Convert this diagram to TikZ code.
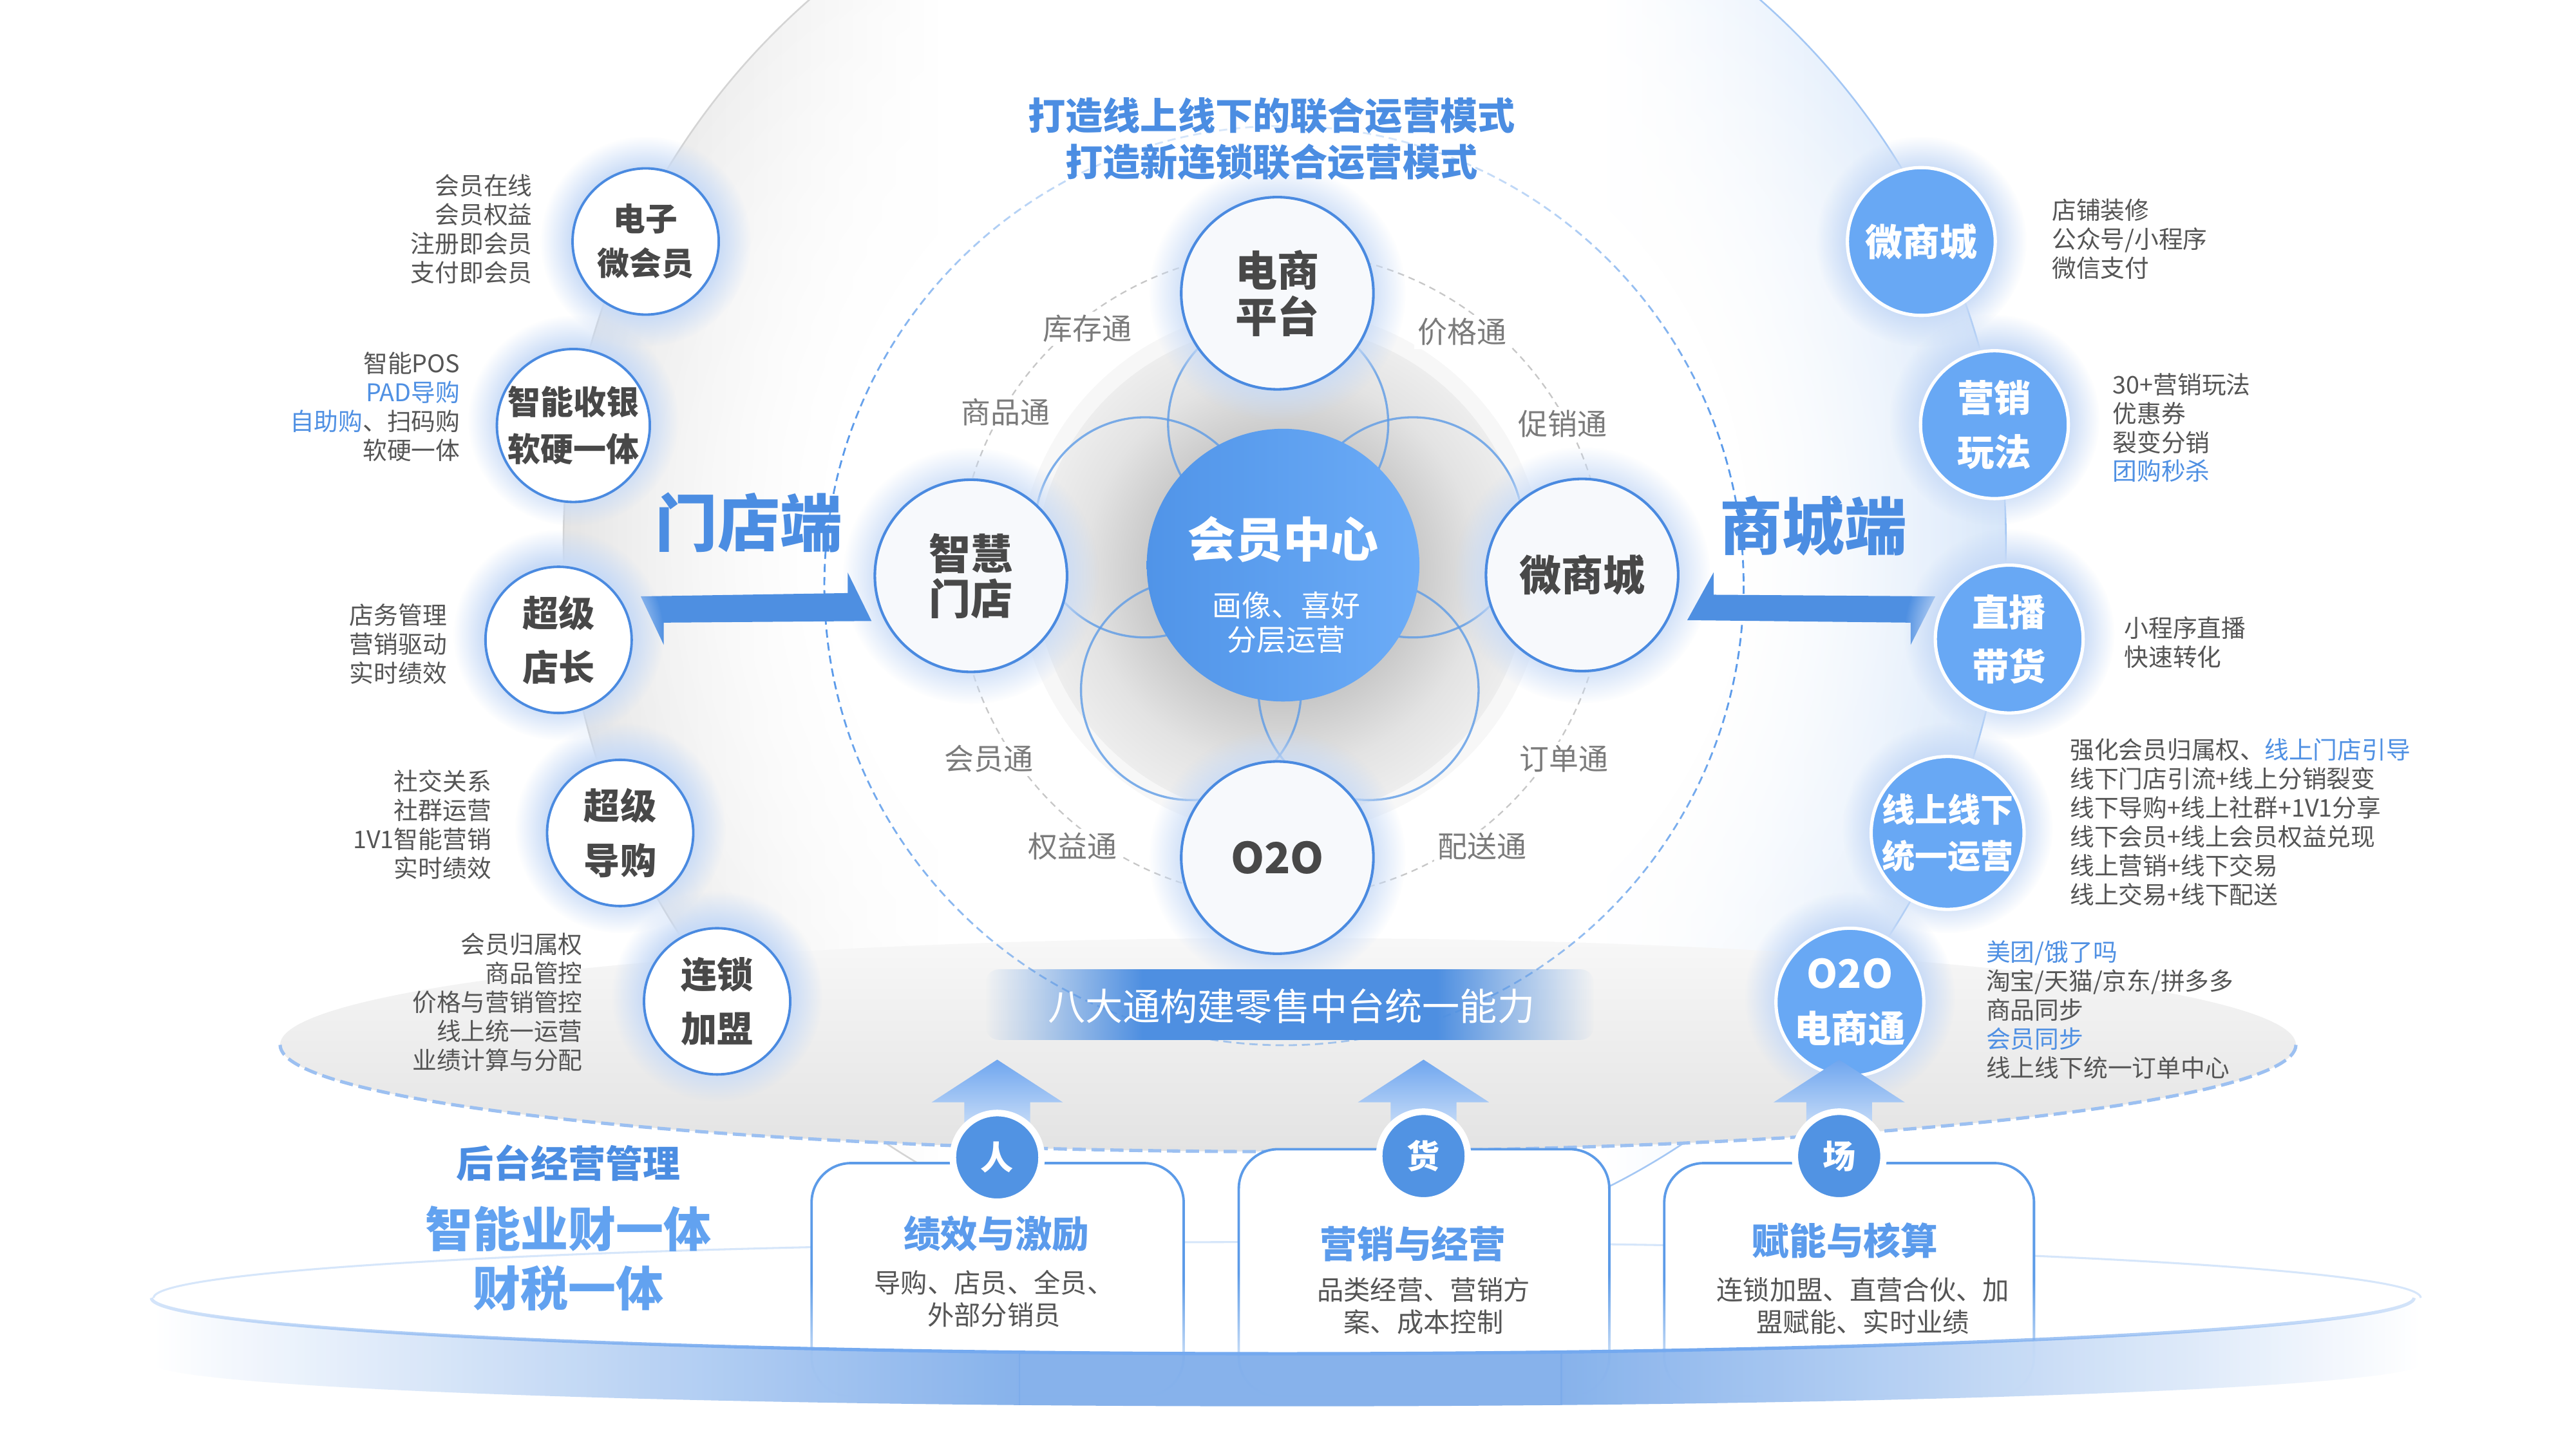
\documentclass[tikz,border=0pt]{standalone}
\usepackage{fontspec}
\setmainfont{Noto Sans CJK SC}
\usetikzlibrary{fadings}

\definecolor{tblue}{HTML}{4B8DE2}
\definecolor{abblue}{HTML}{4E8FE1}
\definecolor{sfill}{HTML}{68A8F4}
\definecolor{sline}{HTML}{4A8AE0}
\definecolor{dtext}{HTML}{484848}
\definecolor{gtext}{HTML}{555555}
\definecolor{ltext}{HTML}{7B7B7B}
\definecolor{hblue}{HTML}{4F90E3}
\definecolor{bandblue}{HTML}{7DACEA}
\definecolor{cblueA}{HTML}{5094E8}
\definecolor{cblueB}{HTML}{6CACF7}
\definecolor{subblue}{HTML}{5B9BEC}
\definecolor{ltblue}{HTML}{62A2F0}
\definecolor{glowL}{HTML}{C8DBF7}
\definecolor{ringblue}{HTML}{D6E6FA}
\definecolor{ringgray}{HTML}{E4E4E4}
\definecolor{dashblue}{HTML}{5A9AEA}
\definecolor{platdash}{HTML}{9CC0F1}
\definecolor{arrowtop}{HTML}{6FA6EF}
\definecolor{arrowbot}{HTML}{D4E4F9}
\definecolor{smallc}{HTML}{5193E3}
\definecolor{boxline}{HTML}{5C9BE8}
\definecolor{petal}{HTML}{5D9BE6}
\definecolor{satfill}{HTML}{F7F9FC}
\definecolor{rimblue}{HTML}{74A9EF}

\pgfdeclareradialshading{innermask}{\pgfpoint{0bp}{0bp}}{color(0bp)=(white); color(16bp)=(white); color(25bp)=(black); color(50bp)=(black)}
\pgfdeclarefading{innerfade}{\pgfuseshading{innermask}}
\pgfdeclareradialshading{glowmask}{\pgfpoint{0bp}{0bp}}{color(0bp)=(white); color(17bp)=(white); color(25bp)=(black); color(50bp)=(black)}
\pgfdeclarefading{glowfade}{\pgfuseshading{glowmask}}
\pgfdeclarehorizontalshading{bannermask}{100bp}{color(0bp)=(black); color(25bp)=(black); color(38bp)=(white); color(62bp)=(white); color(75bp)=(black); color(100bp)=(black)}
\pgfdeclarefading{bannerfade}{\pgfuseshading{bannermask}}
\pgfdeclareverticalshading{boxmask}{100bp}{color(0bp)=(black); color(25bp)=(black); color(50bp)=(white); color(100bp)=(white)}
\pgfdeclarefading{boxfade}{\pgfuseshading{boxmask}}
\pgfdeclareverticalshading{dashmask}{100bp}{color(0bp)=(black!50); color(25bp)=(black!50); color(45bp)=(white); color(58bp)=(white); color(75bp)=(black!78); color(100bp)=(black!78)}
\pgfdeclarefading{dashfade}{\pgfuseshading{dashmask}}
\pgfdeclarehorizontalshading{rimmask}{100bp}{color(0bp)=(black!70); color(25bp)=(black!70); color(40bp)=(white); color(60bp)=(white); color(75bp)=(black!70); color(100bp)=(black!70)}
\pgfdeclarefading{rimfade}{\pgfuseshading{rimmask}}
\pgfdeclareradialshading{discshade}{\pgfpoint{0bp}{0bp}}{color(0bp)=(black!26); color(13bp)=(black!22); color(20bp)=(black!11); color(25bp)=(black!7); color(50bp)=(black!7)}

\newcommand{\fsz}[2]{\fontsize{#1}{#2}\selectfont}
\newcommand{\glowat}[3]{\fill[#3, path fading=glowfade] (#1) circle [radius=#2];}

\begin{document}
\begin{tikzpicture}[x=1pt,y=-1pt,
  every node/.style={inner sep=0pt, outer sep=0pt},
  desc/.style={font=\fsz{14.8}{17.6}, text=gtext},
  tong/.style={font=\fsz{18}{20}, text=ltext, fill=white, inner sep=2pt},
  wsat/.style={circle, minimum size=117, fill=satfill, draw=sline, line width=1.6, text=dtext, align=center},
  lsat/.style={circle, minimum size=89, fill=white, draw=sline, line width=1.5, text=dtext, align=center},
  rsat/.style={circle, minimum size=90, fill=sfill, draw=white, line width=2, text=white, align=center},
  petalc/.style={draw=petal, draw opacity=0.8, line width=1.3},
  smallcirc/.style={circle, minimum size=54, fill=smallc, draw=white, line width=4, text=white, font=\bfseries\fsz{20}{22}},
  boxtitle/.style={font=\bfseries\fsz{22.6}{24}, text=subblue},
  boxsub/.style={font=\fsz{16.2}{19.5}, text=gtext, align=center},
  upar/.style={top color=arrowtop, bottom color=arrowbot},
  twol/.style={yshift=-3pt}
]
\useasboundingbox (0,0) rectangle (1568,882);
\fill[white] (0,0) rectangle (1568,882);

% big background circle: grey on the left, blue on the right, white inside
\begin{scope}
  \clip (782,330) circle [radius=439];
  \shade[left color=ringgray, right color=white] (343,-109) rectangle (575,769);
  \shade[left color=white, right color=ringblue] (975,-109) rectangle (1221,769);
\end{scope}
\fill[white, path fading=innerfade] (782,330) circle [radius=439];
\draw[black!17, line width=1] (782,769) arc[start angle=90, end angle=270, radius=439];
\draw[dashblue!55, line width=1] (782,-109) arc[start angle=270, end angle=450, radius=439];

% platform
\shade[top color=black!3, middle color=black!5, bottom color=black!11] (784,636) ellipse [x radius=613.5, y radius=65];
\draw[platdash, line width=2, dash pattern=on 8 off 3.5] (1397.5,636) arc[start angle=0, end angle=180, x radius=613.5, y radius=65];

% dashed circles
\draw[dashblue, line width=1.1, dash pattern=on 5 off 3, path fading=dashfade] (782,356) circle [radius=280];
\draw[black!22, line width=0.9, dash pattern=on 4 off 3] (780,350) circle [radius=197];

% grey disc
\fill[black!3] (780,348) circle [radius=160];
\shade[shading=discshade] (780,348) circle [radius=150];

% petals
\draw[petalc] (778,258) circle [radius=67];
\draw[petalc] (697,321) circle [radius=67];
\draw[petalc] (860,321) circle [radius=67];
\draw[petalc] (725,420) circle [radius=67];
\draw[petalc] (833,420) circle [radius=67];

% centre
\node[circle, minimum size=166, left color=cblueA, right color=cblueB] (hyzx) at (781,344) {};
\node[font=\bfseries\fsz{29}{30}, text=white] (hyzxt) at (781,328.5) {会员中心};
\node[font=\fsz{18}{21}, text=white, align=center] (hyzxs) at (783,379) {画像、喜好\\分层运营};

% central satellites
\glowat{777.5,178.5}{78}{glowL}
\glowat{591,350.5}{78}{glowL}
\glowat{963,350}{78}{glowL}
\glowat{777.5,522}{78}{glowL}
\node[wsat, font=\bfseries\fsz{25.5}{28}] (ec) at (777.5,178.5) {电商\\平台};
\node[wsat, font=\bfseries\fsz{25.5}{27.5}] (zh) at (591,350.5) {智慧\\门店};
\node[wsat, font=\bfseries\fsz{25.5}{28}] (wsc) at (963,350) {微商城};
\node[wsat, font=\bfseries\fsz{26}{28}] (o2o) at (777.5,522) {O2O};

% tong labels
\node[tong] (kc) at (662,200) {库存通};
\node[tong] (jg) at (890,202) {价格通};
\node[tong] (sp) at (612,251) {商品通};
\node[tong] (cx) at (951,258) {促销通};
\node[tong] (hy) at (602,462) {会员通};
\node[tong] (dd) at (952,462) {订单通};
\node[tong] (qy) at (653,515) {权益通};
\node[tong] (ps) at (902,515) {配送通};

% title
\node[font=\bfseries\fsz{22.8}{28}, text=tblue, align=center] (title) at (774,84.5) {打造线上线下的联合运营模式\\打造新连锁联合运营模式};

% side titles and arrows
\node[font=\bfseries\fsz{38}{40}, text=tblue] (mdd) at (456,318) {门店端};
\node[font=\bfseries\fsz{38}{40}, text=tblue] (scd) at (1104,320) {商城端};
\fill[abblue] (390,363) -- (516,361) -- (516,348.5) -- (530.5,378) -- (404,379) -- (404,392.5) -- cycle;
\fill[abblue] (1178,363) -- (1043,362) -- (1043,348.5) -- (1027,377.5) -- (1163,379) -- (1163,392.5) -- cycle;

% left satellites
\glowat{393,147}{64}{glowL}
\glowat{349,256}{64}{glowL}
\glowat{340,386.5}{64}{glowL}
\glowat{377.5,504}{64}{glowL}
\glowat{436.5,606.5}{64}{glowL}
\node[lsat, font=\bfseries\fsz{19.5}{27}] (ls1) at (393,147) {电子\\微会员};
\node[lsat, font=\bfseries\fsz{20}{28.5}, twol] (ls2) at (349,256) {智能收银\\软硬一体};
\node[lsat, font=\bfseries\fsz{22}{33}, twol] (ls3) at (340,386.5) {超级\\店长};
\node[lsat, font=\bfseries\fsz{22}{33}, twol] (ls4) at (377.5,504) {超级\\导购};
\node[lsat, font=\bfseries\fsz{22}{33}, twol] (ls5) at (436.5,606.5) {连锁\\加盟};

\node[desc, anchor=east, align=right] (d1) at (324,139.5) {会员在线\\会员权益\\注册即会员\\支付即会员};
\node[desc, anchor=east, align=right] (d2) at (280,247.5) {智能POS\\\textcolor{hblue}{PAD导购}\\\textcolor{hblue}{自助购}、扫码购\\软硬一体};
\node[desc, anchor=east, align=right] (d3) at (272,392.2) {店务管理\\营销驱动\\实时绩效};
\node[desc, anchor=east, align=right] (d4) at (299,502) {社交关系\\社群运营\\1V1智能营销\\实时绩效};
\node[desc, anchor=east, align=right] (d5) at (354.6,610) {会员归属权\\商品管控\\价格与营销管控\\线上统一运营\\业绩计算与分配};

% right satellites
\glowat{1169.5,147}{64}{glowL}
\glowat{1214,255.5}{64}{glowL}
\glowat{1223,386}{64}{glowL}
\glowat{1185.5,504}{64}{glowL}
\glowat{1126,607}{64}{glowL}
\node[rsat, font=\bfseries\fsz{22.7}{26}] (rs1) at (1169.5,147) {微商城};
\node[rsat, font=\bfseries\fsz{22.5}{33}, twol] (rs2) at (1214,255.5) {营销\\玩法};
\node[rsat, font=\bfseries\fsz{22.5}{33}, twol] (rs3) at (1223,386) {直播\\带货};
\node[rsat, font=\bfseries\fsz{20}{28.5}, twol] (rs4) at (1185.5,504) {线上线下\\统一运营};
\node[rsat, font=\bfseries\fsz{22.5}{33}, twol] (rs5) at (1126,607) {{\fsz{24}{33}O2O}\\电商通};

\node[desc, anchor=west, align=left] (e1) at (1249,145.6) {店铺装修\\公众号/小程序\\微信支付};
\node[desc, anchor=west, align=left] (e2) at (1286,260.4) {30+营销玩法\\优惠券\\裂变分销\\\textcolor{hblue}{团购秒杀}};
\node[desc, anchor=west, align=left] (e3) at (1293,391) {小程序直播\\快速转化};
\node[desc, anchor=west, align=left] (e4) at (1260,500.5) {强化会员归属权、\textcolor{hblue}{线上门店引导}\\线下门店引流+线上分销裂变\\线下导购+线上社群+1V1分享\\线下会员+线上会员权益兑现\\线上营销+线下交易\\线上交易+线下配送};
\node[desc, anchor=west, align=left] (e5) at (1209,614.6) {\textcolor{hblue}{美团/饿了吗}\\淘宝/天猫/京东/拼多多\\商品同步\\\textcolor{hblue}{会员同步}\\线上线下统一订单中心};

% banner
\fill[abblue, path fading=bannerfade, rounded corners=8] (600,590) rectangle (970,633);
\node[font=\fsz{22.8}{24}, text=white] (banner) at (786,612.5) {八大通构建零售中台统一能力};

% disc top surface
\fill[white] (783.5,790) ellipse [x radius=690, y radius=34];
\draw[ringblue, line width=1.2] (93.5,790) arc[start angle=180, end angle=360, x radius=690, y radius=34];

% boxes
\fill[white, path fading=boxfade, rounded corners=24] (494,708) rectangle (720.5,850);
\draw[boxline, line width=1.5, rounded corners=24, path fading=boxfade] (494,708) rectangle (720.5,850);
\fill[white, path fading=boxfade, rounded corners=24] (754,699.5) rectangle (979.5,850);
\draw[boxline, line width=1.5, rounded corners=24, path fading=boxfade] (754,699.5) rectangle (979.5,850);
\fill[white, path fading=boxfade, rounded corners=24] (1013,708) rectangle (1238,850);
\draw[boxline, line width=1.5, rounded corners=24, path fading=boxfade] (1013,708) rectangle (1238,850);

% up arrows
\shade[upar] (607,645) -- (647,671) -- (627,671) -- (627,692) -- (587,692) -- (587,671) -- (567,671) -- cycle;
\shade[upar] (866.5,645) -- (906.5,671) -- (886.5,671) -- (886.5,692) -- (846.5,692) -- (846.5,671) -- (826.5,671) -- cycle;
\shade[upar] (1119.5,645) -- (1159.5,671) -- (1139.5,671) -- (1139.5,692) -- (1099.5,692) -- (1099.5,671) -- (1079.5,671) -- cycle;

\node[smallcirc] (ren) at (607,704.5) {人};
\node[smallcirc] (huo) at (866.5,703.7) {货};
\node[smallcirc] (chang) at (1119.5,703.7) {场};

\node[boxtitle] (t1) at (606.5,751) {绩效与激励};
\node[boxsub] (s1) at (605,790.5) {导购、店员、全员、\\外部分销员};
\node[boxtitle] (t2) at (860,757) {营销与经营};
\node[boxsub] (s2) at (866.5,795) {品类经营、营销方\\案、成本控制};
\node[boxtitle] (t3) at (1123,755) {赋能与核算};
\node[boxsub] (s3) at (1134,795) {连锁加盟、直营合伙、加\\盟赋能、实时业绩};

% disc band
\begin{scope}
  \clip (93.5,790) arc[start angle=180, end angle=0, x radius=690, y radius=34] -- (1473.5,830) arc[start angle=0, end angle=180, x radius=690, y radius=26] -- cycle;
  \shade[left color=white, right color=bandblue, opacity=0.92] (93.5,750) rectangle (621,870);
  \fill[bandblue, opacity=0.92] (620,750) rectangle (951,870);
  \shade[left color=bandblue, right color=white, opacity=0.92] (950,750) rectangle (1473.5,870);
\end{scope}
\draw[rimblue, line width=2, path fading=rimfade] (93.5,790) arc[start angle=180, end angle=0, x radius=690, y radius=34];

% bottom-left titles
\node[font=\bfseries\fsz{22.7}{24}, text=tblue] (ht) at (346,708) {后台经营管理};
\node[font=\bfseries\fsz{29}{36}, text=ltblue, align=center] (zn) at (346,766) {智能业财一体\\财税一体};
\end{tikzpicture}
\end{document}
